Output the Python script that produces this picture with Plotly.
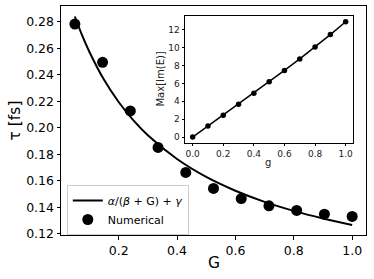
import plotly.graph_objects as go

# Main panel data
G_num = [0.05, 0.145, 0.24, 0.335, 0.43, 0.525, 0.62, 0.715, 0.81, 0.905, 1.0]
tau_num = [0.2783, 0.2494, 0.2128, 0.1852, 0.1664, 0.1543, 0.1467, 0.1412, 0.1377, 0.1349, 0.1332]

G_fit = [0.05, 0.075, 0.1, 0.15, 0.2, 0.25, 0.3, 0.4, 0.5, 0.6, 0.7, 0.8, 0.9, 1.0]
tau_fit = [0.2840, 0.2697, 0.2572, 0.2362, 0.2195, 0.2058, 0.1944, 0.1765, 0.1630,
           0.1526, 0.1442, 0.1374, 0.1317, 0.1268]

# Inset data
g_in = [0.0, 0.1, 0.2, 0.3, 0.4, 0.5, 0.6, 0.7, 0.8, 0.9, 1.0]
maxim_in = [0.0, 1.23, 2.45, 3.68, 4.91, 6.17, 7.45, 8.73, 10.07, 11.45, 12.88]

main_xticks = [0.2, 0.4, 0.6, 0.8, 1.0]
main_yticks = [0.12, 0.14, 0.16, 0.18, 0.20, 0.22, 0.24, 0.26, 0.28]
in_xticks = [0.0, 0.2, 0.4, 0.6, 0.8, 1.0]
in_yticks = [0, 2, 4, 6, 8, 10, 12]

FONT = "DejaVu Sans"

fig = go.Figure()
fig.add_trace(go.Scatter(x=G_fit, y=tau_fit, mode="lines", line=dict(color="black", width=2, shape="spline"),
                         name="<i>α</i>/(<i>β</i> + G) + <i>γ</i>", xaxis="x", yaxis="y"))
fig.add_trace(go.Scatter(x=G_num, y=tau_num, mode="markers", marker=dict(color="black", size=11),
                         name="Numerical", xaxis="x", yaxis="y"))
fig.add_trace(go.Scatter(x=g_in, y=maxim_in, mode="lines+markers", line=dict(color="black", width=1.5),
                         marker=dict(color="black", size=5.5), showlegend=False, xaxis="x2", yaxis="y2"))

axcommon = dict(showline=True, linecolor="black", linewidth=1, mirror=True, ticks="outside",
                tickcolor="black", showgrid=False, zeroline=False)

fig.update_layout(
    width=374, height=279,
    margin=dict(l=61, r=8, t=6, b=44),
    paper_bgcolor="white", plot_bgcolor="white",
    font=dict(family=FONT, color="black"),
    xaxis=dict(domain=[0, 1], range=[0.0025, 1.0475], tickvals=main_xticks, ticklen=3.5,
               ticktext=[f"{v:.1f}" for v in main_xticks], tickfont=dict(size=12.5), anchor="y", **axcommon),
    yaxis=dict(domain=[0, 1], range=[0.1192, 0.2919], tickvals=main_yticks, ticklen=3.5,
               ticktext=[f"{v:.2f}" for v in main_yticks], tickfont=dict(size=12.5), anchor="x", **axcommon),
    xaxis2=dict(domain=[0.4066, 0.9584], range=[-0.05, 1.05], tickvals=in_xticks, ticklen=2.5,
                ticktext=[f"{v:.1f}" for v in in_xticks], tickfont=dict(size=9, color="#222"),
                anchor="y2", **axcommon),
    yaxis2=dict(domain=[0.4023, 0.9563], range=[-0.644, 13.52], tickvals=in_yticks, ticklen=2.5,
                ticktext=[str(v) for v in in_yticks], tickfont=dict(size=9, color="#222"),
                anchor="x2", **axcommon),
    legend=dict(x=0.019, y=0.0, xanchor="left", yanchor="bottom", bgcolor="rgba(255,255,255,0.8)",
                bordercolor="#cccccc", borderwidth=1, font=dict(size=11, family=FONT),
                tracegroupgap=0, itemwidth=30),
    showlegend=True,
    annotations=[
        dict(text="G", xref="paper", yref="paper", x=0.5, y=-0.124, xanchor="center", yanchor="middle",
             showarrow=False, font=dict(size=15.5)),
        dict(text="τ [fs]", xref="paper", yref="paper", x=-0.151, y=0.5, xanchor="center", yanchor="middle",
             textangle=-90, showarrow=False, font=dict(size=15.5)),
        dict(text="g", xref="paper", yref="paper", x=0.6787, y=0.315, xanchor="center", yanchor="middle",
             showarrow=False, font=dict(size=10, color="#222")),
        dict(text="Max[Im(E)]", xref="paper", yref="paper", x=0.325, y=0.6795, xanchor="center",
             yanchor="middle", textangle=-90, showarrow=False, font=dict(size=10, color="#222")),
    ],
)

fig.write_html("out.html", config={"displayModeBar": False},
               post_script="document.body.style.margin='0px';document.body.style.overflow='hidden';")
